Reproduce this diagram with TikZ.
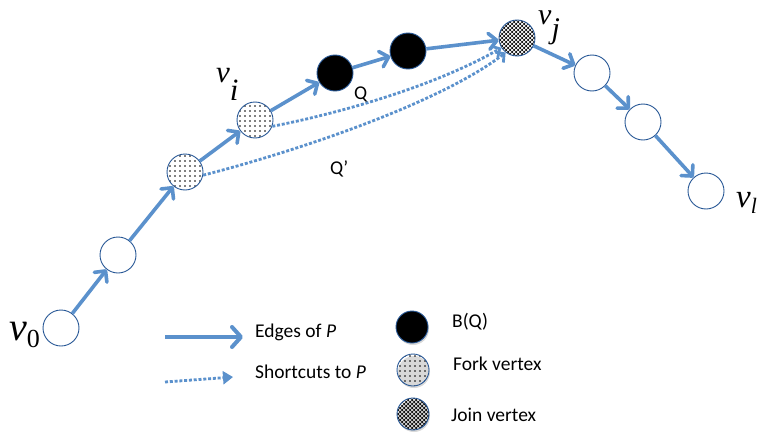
\documentclass[tikz,border=0pt]{standalone}
\usepackage{fontspec}
\setmainfont{Carlito}
\newfontfamily\tnr{Liberation Serif}
\usetikzlibrary{arrows.meta,patterns,shadows}
\definecolor{arrowblue}{RGB}{91,145,204}
\definecolor{nodeblue}{RGB}{40,88,150}
\pgfdeclarepatternformonly{sparsedots}{\pgfqpoint{-1pt}{-1pt}}{\pgfqpoint{1pt}{1pt}}{\pgfqpoint{5pt}{5pt}}{\pgfpathcircle{\pgfqpoint{0pt}{0pt}}{0.9pt}\pgfusepath{fill}}
\pgfdeclarepatternformonly{joindots}{\pgfqpoint{-1.5pt}{-1.5pt}}{\pgfqpoint{4pt}{4pt}}{\pgfqpoint{4pt}{4pt}}{\pgfpathcircle{\pgfqpoint{0pt}{0pt}}{1.25pt}\pgfpathcircle{\pgfqpoint{2pt}{2pt}}{1.25pt}\pgfusepath{fill}}
\begin{document}
\begin{tikzpicture}[x=1pt,y=-1pt,
  vtx/.style={circle, draw=nodeblue, line width=0.9pt, minimum size=36pt, inner sep=0pt, fill=white},
  forkv/.style={vtx, preaction={fill=white}, pattern=sparsedots},
  joinv/.style={vtx, preaction={fill=white}, pattern=joindots},
  blk/.style={vtx, fill=black},
  legv/.style={minimum size=32pt, drop shadow={opacity=0.3, shadow xshift=1pt, shadow yshift=-2pt}},
  pedge/.style={draw=arrowblue, line width=3.6pt, -{Straight Barb[length=8pt,width=16pt,round]}},
  sedge/.style={draw=arrowblue, line width=2.8pt, dash pattern=on 3pt off 1.8pt, -{Straight Barb[length=6pt,width=13pt]}},
  lbl/.style={font=\fontsize{19.5}{22}\selectfont, inner sep=0pt, anchor=base west},
  vlbl/.style={inner sep=0pt, anchor=base west},
]
\useasboundingbox (0,0) rectangle (759,436);
% vertices
\node[vtx]   (v0) at (61,328) {};
\node[vtx]   (n1) at (118,255) {};
\node[forkv] (n2) at (185,172) {};
\node[forkv] (vi) at (255,120) {};
\node[blk]   (b1) at (335,73) {};
\node[blk]   (b2) at (408,51) {};
\node[joinv] (vj) at (517,38) {};
\node[vtx]   (n3) at (592,73) {};
\node[vtx]   (n4) at (643,122) {};
\node[vtx]   (vl) at (706,191) {};
% path edges
\draw[pedge] (v0) -- (n1);
\draw[pedge] (n1) -- (n2);
\draw[pedge] (n2) -- (vi);
\draw[pedge] (vi) -- (b1);
\draw[pedge] (b1) -- (b2);
\draw[pedge] (b2) -- (vj);
\draw[pedge] (vj) -- (n3);
\draw[pedge] (n3) -- (n4);
\draw[pedge] (n4) -- (vl);
% shortcuts
\draw[sedge] (vi.-20) .. controls +(77,-15) and +(-60,35) .. (vj.212);
\draw[sedge] (n2.-10) .. controls +(97,-25) and +(-65,50) .. (vj.232);
% vertex labels
\node[vlbl] (lv0) at (9,340) {\tnr\fontsize{40}{40}\selectfont\itshape v\raisebox{-7pt}{\upshape\fontsize{26}{26}\selectfont 0}};
\node[vlbl] (lvi) at (216,82) {\tnr\fontsize{31}{31}\selectfont\itshape v\raisebox{-18pt}{i}};
\node[vlbl] (lvj) at (538,25) {\tnr\fontsize{30}{30}\selectfont\itshape v\raisebox{-14pt}{j}};
\node[vlbl] (lvl) at (736,207) {\tnr\fontsize{33}{33}\selectfont\itshape v\raisebox{-6pt}{\fontsize{22}{22}\selectfont l}};
\node[lbl] (lq) at (354,99) {Q};
\node[lbl] (lq2) at (330,174) {Q’};
% legend
\coordinate (la1) at (165,337);
\coordinate (la2) at (243,337);
\coordinate (lb1) at (165,382);
\coordinate (lb2) at (233,377);
\draw[draw=arrowblue, line width=4pt, -{Straight Barb[length=9pt,width=20pt,round]}] (la1) -- (la2);
\draw[draw=arrowblue, line width=2.8pt, dash pattern=on 3pt off 1.8pt, -{Triangle[length=10pt,width=13pt]}] (lb1) -- (lb2);
\node[lbl] (te) at (255,337) {Edges of \textit{P}};
\node[lbl] (ts) at (255,378) {Shortcuts to \textit{P}};
\node[blk, legv] (gb) at (412,327) {};
\node[forkv, legv] (gf) at (413,370) {};
\node[joinv, legv] (gj) at (413,414) {};
\node[lbl] (tb) at (452,327) {B(Q)};
\node[lbl] (tf) at (453,370) {Fork vertex};
\node[lbl] (tj) at (451,421) {Join vertex};
\end{tikzpicture}
\end{document}
